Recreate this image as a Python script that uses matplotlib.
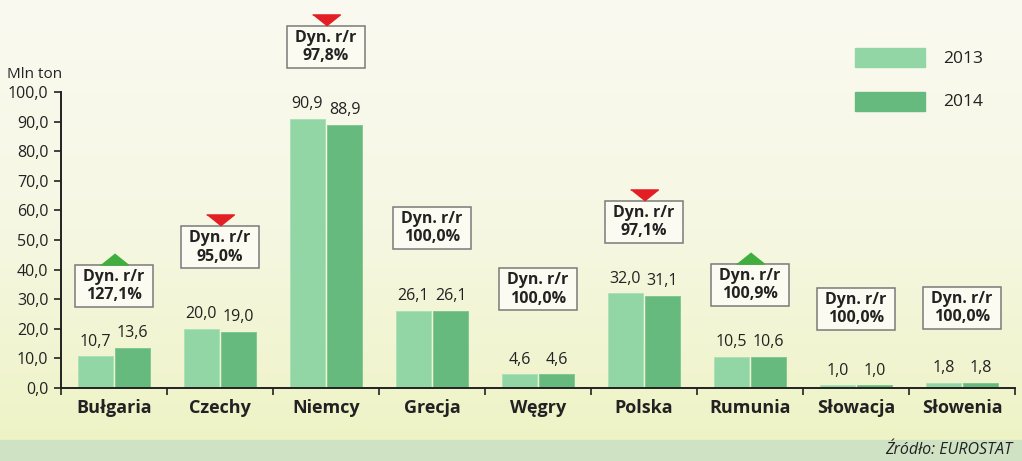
import numpy as np
import matplotlib
matplotlib.use('Agg')
import matplotlib.pyplot as plt
from matplotlib.colors import LinearSegmentedColormap

plt.rcParams['font.family'] = ['Open Sans', 'DejaVu Sans']

countries = ['Bułgaria', 'Czechy', 'Niemcy', 'Grecja', 'Węgry', 'Polska', 'Rumunia', 'Słowacja', 'Słowenia']
v2013 = [10.7, 20.0, 90.9, 26.1, 4.6, 32.0, 10.5, 1.0, 1.8]
v2014 = [13.6, 19.0, 88.9, 26.1, 4.6, 31.1, 10.6, 1.0, 1.8]
dyn = ['127,1%', '95,0%', '97,8%', '100,0%', '100,0%', '97,1%', '100,9%', '100,0%', '100,0%']
trend = ['up', 'down', 'down', None, None, 'down', 'up', None, None]

# where the boxes sit (data units)
box_y = [34.5, 47.5, 115.2, 54.1, 33.3, 56.1, 34.8, 26.7, 27.0]
box_w = 0.73
box_h = 14.2

c13 = '#93d6a6'
c14 = '#67ba7d'

fig = plt.figure(figsize=(10.22, 4.61), dpi=100)

# background
bg = fig.add_axes([0, 0, 1, 1])
bg.set_axis_off()
cmap = LinearSegmentedColormap.from_list('bg', ['#fafaf1', '#f6f7e2', '#eef3c3'])
grad = np.linspace(0, 1, 200).reshape(-1, 1)
bg.imshow(grad, aspect='auto', cmap=cmap, extent=[0, 1, 0, 1], origin='upper')
bg.axhspan(0, 21 / 461, color='#cfe2c3')
bg.set_xlim(0, 1)
bg.set_ylim(0, 1)

ax = fig.add_axes([61 / 1022, 73 / 461, 954 / 1022, 296 / 461])
ax.patch.set_alpha(0)

x = np.arange(len(countries))
w = 0.33
ax.bar(x - 0.175, v2013, w, color=c13, edgecolor='#a9e0b7', linewidth=0.6, label='2013')
ax.bar(x + 0.175, v2014, w, color=c14, edgecolor='#7cc58f', linewidth=0.6, label='2014')

def fmt(v):
    return ('%.1f' % v).replace('.', ',')

for xi, a, b in zip(x, v2013, v2014):
    ax.text(xi - 0.175, a + 2.2, fmt(a), ha='center', va='bottom', fontsize=11.5, color='#222222')
    ax.text(xi + 0.175, b + 2.2, fmt(b), ha='center', va='bottom', fontsize=11.5, color='#222222')

tri_up = [(-1, -0.4), (1, -0.4), (0, 0.4)]
tri_dn = [(-1, 0.4), (1, 0.4), (0, -0.4)]
for xi, d, t, by in zip(x, dyn, trend, box_y):
    ax.add_patch(plt.Rectangle((xi - box_w / 2, by - box_h / 2), box_w, box_h, fc='#fbfbf1',
                               ec='#7a7a7a', lw=1.1, clip_on=False, zorder=3))
    ax.text(xi, by, 'Dyn. r/r\n' + d, ha='center', va='center', fontsize=11.5,
            fontweight='bold', color='#222222', linespacing=1.2, clip_on=False, zorder=4)
    if t == 'up':
        ax.plot(xi, by + box_h / 2 + 2.0, marker=tri_up, markersize=20, color='#3fae3f',
                clip_on=False, ls='none', zorder=4)
    elif t == 'down':
        ax.plot(xi, by + box_h / 2 + 2.0, marker=tri_dn, markersize=20, color='#e31e24',
                clip_on=False, ls='none', zorder=4)

ax.set_xlim(-0.5, len(countries) - 0.5)
ax.set_ylim(0, 100)
ax.set_yticks(np.arange(0, 101, 10))
ax.set_yticklabels([fmt(v) for v in np.arange(0, 101, 10)], fontsize=11.5, color='#222222')
ax.set_xticks(x)
ax.set_xticklabels(countries, fontsize=13, fontweight='bold', color='#222222')
ax.tick_params(axis='x', length=0, pad=8)
ax.set_xticks(np.arange(-0.5, len(countries)), minor=True)
ax.tick_params(axis='x', which='minor', length=5, width=1.2, color='#222222', direction='out')
ax.tick_params(axis='y', length=5, width=1.2, color='#222222', pad=4)
for s in ['top', 'right']:
    ax.spines[s].set_visible(False)
for s in ['left', 'bottom']:
    ax.spines[s].set_linewidth(1.4)
    ax.spines[s].set_color('#222222')

fig.text(7 / 1022, 1 - 75 / 461, 'Mln ton', fontsize=11, color='#222222', va='center')

# legend
fig.patches.append(plt.Rectangle((855 / 1022, 1 - 67 / 461), 70 / 1022, 19 / 461,
                                 transform=fig.transFigure, color=c13))
fig.patches.append(plt.Rectangle((855 / 1022, 1 - 111 / 461), 70 / 1022, 19 / 461,
                                 transform=fig.transFigure, color=c14))
fig.text(943 / 1022, 1 - 59 / 461, '2013', fontsize=12.5, color='#222222', va='center')
fig.text(943 / 1022, 1 - 102 / 461, '2014', fontsize=12.5, color='#222222', va='center')

fig.text(1012 / 1022, 1 - 450 / 461, 'Źródło: EUROSTAT', fontsize=11.5, style='italic',
         color='#222222', ha='right', va='center')

fig.savefig('out.png', dpi=100)
